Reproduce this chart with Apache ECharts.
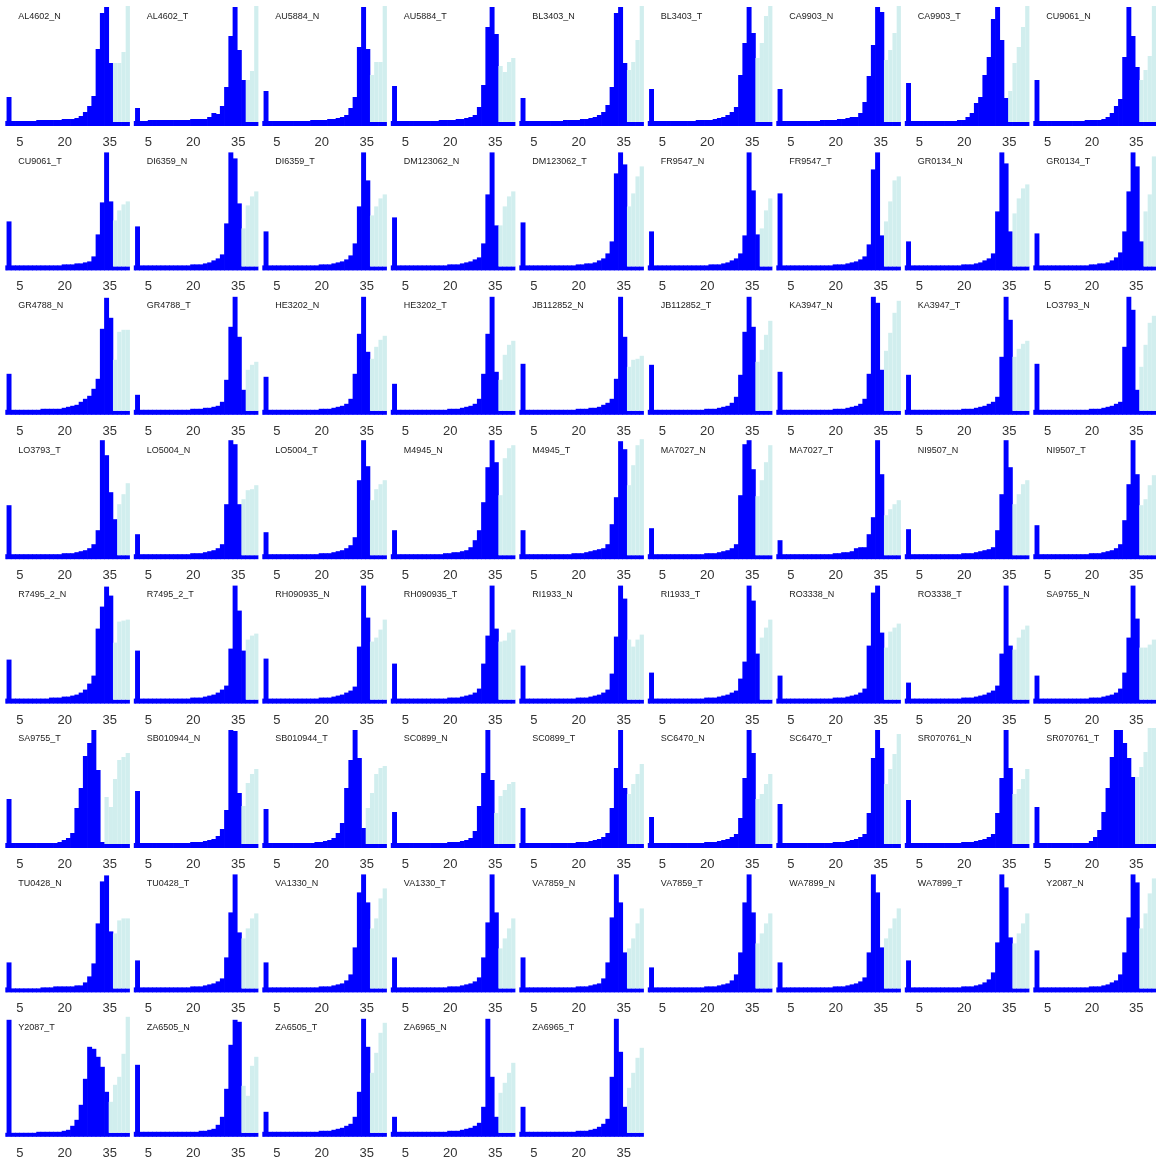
<!DOCTYPE html>
<html><head><meta charset="utf-8">
<script src="https://cdn.jsdelivr.net/npm/echarts@6/dist/echarts.min.js"></script>
<style>html,body{margin:0;padding:0;background:#fff}#c{width:1156px;height:1162px}</style>
</head><body><div id="c"></div>
<script>
const panelNames = ["AL4602_N","AL4602_T","AU5884_N","AU5884_T","BL3403_N","BL3403_T","CA9903_N","CA9903_T","CU9061_N",
"CU9061_T","DI6359_N","DI6359_T","DM123062_N","DM123062_T","FR9547_N","FR9547_T","GR0134_N","GR0134_T",
"GR4788_N","GR4788_T","HE3202_N","HE3202_T","JB112852_N","JB112852_T","KA3947_N","KA3947_T","LO3793_N",
"LO3793_T","LO5004_N","LO5004_T","M4945_N","M4945_T","MA7027_N","MA7027_T","NI9507_N","NI9507_T",
"R7495_2_N","R7495_2_T","RH090935_N","RH090935_T","RI1933_N","RI1933_T","RO3338_N","RO3338_T","SA9755_N",
"SA9755_T","SB010944_N","SB010944_T","SC0899_N","SC0899_T","SC6470_N","SC6470_T","SR070761_N","SR070761_T",
"TU0428_N","TU0428_T","VA1330_N","VA1330_T","VA7859_N","VA7859_T","WA7899_N","WA7899_T","Y2087_N",
"Y2087_T","ZA6505_N","ZA6505_T","ZA6965_N","ZA6965_T"];

const binCenters = [0,1.414,2.828,4.241,5.655,7.069,8.483,9.897,11.31,12.72,14.14,15.55,16.97,18.38,19.79,21.21,22.62,24.03,25.45,26.86,28.28,29.69,31.1,32.52,33.93,35.34,36.76,38.17,39.59,41];
const binWidth = 1.414;
const xTickValues = [5, 20, 35];

const blueCounts = [
[5,29,5,5,5,5,5,5,6,6,6,6,6,6,7,7,7,8,10,14,20,30,77,113,119,63,4,4,4,4],
[5,18,5,5,6,6,6,6,6,6,6,6,6,6,7,7,7,7,9,13,12,20,39,90,119,76,46,4,4,4],
[5,35,5,5,5,5,5,5,5,5,5,5,6,6,6,6,7,7,8,9,11,18,29,79,119,77,4,4,4,4],
[5,40,5,5,5,5,5,5,5,5,5,5,6,6,6,6,7,7,8,9,11,19,41,99,119,92,4,4,4,4],
[5,28,5,5,5,5,5,5,5,5,5,6,6,6,6,7,7,8,9,11,14,21,39,113,119,63,4,4,4,4],
[5,37,5,5,5,5,5,5,5,5,5,5,6,6,6,6,7,8,9,11,14,19,51,83,119,93,4,4,4,4],
[5,37,5,5,5,5,5,5,5,5,5,6,6,6,6,7,7,8,9,9,13,24,50,81,119,114,4,4,4,4],
[5,43,5,5,5,5,5,5,5,5,5,5,5,6,6,9,13,23,29,51,69,107,119,86,28,4,4,4,4,4],
[5,46,5,5,5,5,5,5,5,5,5,5,5,6,6,6,6,7,9,13,20,27,69,119,90,59,4,4,4,4],
[5,49,5,5,5,5,5,5,5,5,5,5,5,5,6,6,6,7,7,8,9,14,36,68,118,69,4,4,4,4],
[5,44,5,5,5,5,5,5,5,5,5,5,5,5,6,6,6,7,8,10,12,16,47,118,112,67,4,4,4,4],
[5,39,5,5,5,5,5,5,5,5,5,5,5,5,6,6,6,7,8,9,11,15,27,64,118,90,4,4,4,4],
[5,53,5,5,5,5,5,5,5,5,5,5,5,5,6,6,6,7,8,9,11,13,27,76,118,45,4,4,4,4],
[5,48,5,5,5,5,5,5,5,5,5,5,5,5,6,6,7,7,8,10,12,17,29,97,118,106,4,4,4,4],
[5,39,5,5,5,5,5,5,5,5,5,5,5,5,5,6,6,6,7,8,10,12,17,35,118,80,36,4,4,4],
[5,77,5,5,5,5,5,5,5,5,5,5,5,5,6,6,6,7,8,9,11,14,26,101,118,35,4,4,4,4],
[5,29,5,5,5,5,5,5,5,5,5,5,5,5,6,6,6,7,8,10,12,17,59,118,107,39,4,4,4,4],
[5,37,5,5,5,5,5,5,5,5,5,5,5,5,6,6,7,7,8,10,13,18,39,79,118,104,29,4,4,4],
[5,41,5,5,5,5,5,5,5,6,6,6,6,6,7,8,9,10,13,16,19,26,36,86,117,97,4,4,4,4],
[5,20,5,5,5,5,5,5,5,5,5,5,5,5,6,6,6,7,7,8,9,13,35,88,118,78,25,4,4,4],
[5,38,5,5,5,5,5,5,5,5,5,5,5,5,6,6,6,7,8,9,11,16,41,81,118,63,4,4,4,4],
[5,31,5,5,5,5,5,5,5,5,5,5,5,5,6,6,6,7,8,9,11,16,41,81,118,43,4,4,4,4],
[5,51,5,5,5,5,5,5,5,5,5,5,5,5,6,6,6,7,7,8,10,12,16,36,118,78,4,4,4,4],
[5,50,5,5,5,5,5,5,5,5,5,5,5,5,6,6,6,7,8,9,12,18,40,83,118,88,4,4,4,4],
[5,43,5,5,5,5,5,5,5,5,5,5,5,5,6,6,6,7,8,9,11,16,41,118,112,45,4,4,4,4],
[5,40,5,5,5,5,5,5,5,5,5,5,5,5,6,6,6,7,8,9,11,13,18,58,118,95,4,4,4,4],
[5,51,5,5,5,5,5,5,5,5,5,5,5,5,6,6,6,7,8,9,11,13,68,118,105,25,4,4,4,4],
[5,54,5,5,5,5,5,5,5,5,5,5,5,5,6,6,6,7,8,9,11,15,29,119,104,67,40,4,4,4],
[5,25,5,5,5,5,5,5,5,5,5,5,5,5,6,6,6,7,8,9,11,15,55,119,115,55,4,4,4,4],
[5,27,5,5,5,5,5,5,5,5,5,5,5,5,6,6,6,7,8,9,11,14,22,79,119,93,4,4,4,4],
[5,29,5,5,5,5,5,5,5,5,5,5,5,6,6,7,7,8,9,12,19,29,57,92,119,97,4,4,4,4],
[5,29,5,5,5,5,5,5,5,5,5,5,5,6,6,6,7,8,9,10,11,15,35,62,118,110,4,4,4,4],
[5,31,5,5,5,5,5,5,5,5,5,5,5,5,6,6,6,7,8,9,11,15,64,115,119,90,4,4,4,4],
[5,19,5,5,5,5,5,5,5,5,5,5,5,5,6,6,7,7,8,11,12,12,25,42,119,85,4,4,4,4],
[5,30,5,5,5,5,5,5,5,5,5,5,5,5,6,6,6,7,8,9,10,12,29,65,119,92,4,4,4,4],
[5,34,5,5,5,5,5,5,5,5,5,5,5,5,6,6,6,7,8,9,11,15,39,75,119,85,4,4,4,4],
[5,44,5,5,5,5,5,5,5,5,5,6,6,6,7,7,8,9,11,14,20,28,75,97,117,108,4,4,4,4],
[5,53,5,5,5,5,5,5,5,5,5,5,5,5,6,6,6,7,8,9,11,14,18,55,118,93,53,4,4,4],
[5,45,5,5,5,5,5,5,5,5,5,5,5,5,6,6,6,7,8,9,11,13,17,57,118,86,4,4,4,4],
[5,40,5,5,5,5,5,5,5,5,5,5,5,5,6,6,6,7,8,9,11,15,40,68,118,75,4,4,4,4],
[5,38,5,5,5,5,5,5,5,5,5,5,5,5,6,6,6,7,8,9,11,14,30,67,118,105,4,4,4,4],
[5,31,5,5,5,5,5,5,5,5,5,5,5,5,6,6,6,7,8,9,11,13,25,42,118,103,50,4,4,4],
[5,28,5,5,5,5,5,5,5,5,5,5,5,5,6,6,6,7,8,9,11,15,58,111,118,71,4,4,4,4],
[5,21,5,5,5,5,5,5,5,5,5,5,5,5,6,6,6,7,8,9,11,13,18,50,118,58,4,4,4,4],
[5,28,5,5,5,5,5,5,5,5,5,5,5,5,6,6,6,7,8,9,11,15,31,66,118,85,4,4,4,4],
[5,49,5,5,5,5,5,5,5,5,5,5,5,6,8,10,15,40,60,92,105,118,78,6,4,4,4,4,4,4],
[5,57,5,5,5,5,5,5,5,5,5,5,5,5,6,6,6,7,8,9,12,19,38,118,117,55,4,4,4,4],
[5,39,5,5,5,5,5,5,5,5,5,5,5,6,6,7,8,10,15,25,60,88,118,90,20,4,4,4,4,4],
[5,36,5,5,5,5,5,5,5,5,5,5,5,5,6,6,6,7,8,10,17,42,75,118,68,4,4,4,4,4],
[5,40,5,5,5,5,5,5,5,5,5,5,5,5,6,6,6,7,8,9,11,15,40,80,118,60,4,4,4,4],
[5,31,5,5,5,5,5,5,5,5,5,5,5,5,6,6,6,7,8,9,11,14,30,70,118,95,4,4,4,4],
[5,44,5,5,5,5,5,5,5,5,5,5,5,5,6,6,6,7,8,9,11,14,35,90,118,100,4,4,4,4],
[5,48,5,5,5,5,5,5,5,5,5,5,5,5,6,6,6,7,8,9,11,14,35,70,118,80,4,4,4,4],
[5,41,5,5,5,5,5,5,5,5,5,5,5,5,7,11,18,36,60,91,118,118,105,90,71,4,4,4,4,4],
[5,30,4,4,4,4,4,4,4,5,5,5,6,6,6,6,6,7,7,10,16,29,69,111,117,61,4,4,4,4],
[5,32,5,5,5,5,5,5,5,5,5,5,5,5,6,6,6,7,8,9,11,14,35,80,118,60,4,4,4,4],
[5,30,5,5,5,5,5,5,5,5,5,5,5,5,6,6,6,7,8,9,12,18,45,100,118,90,4,4,4,4],
[5,35,5,5,5,5,5,5,5,5,5,5,5,5,6,6,6,7,8,9,11,15,35,70,118,80,4,4,4,4],
[5,35,5,5,5,5,5,5,5,5,5,5,5,5,6,6,6,7,8,9,14,30,75,118,90,40,4,4,4,4],
[5,25,5,5,5,5,5,5,5,5,5,5,5,5,6,6,6,7,8,9,12,18,40,90,118,80,4,4,4,4],
[5,30,5,5,5,5,5,5,5,5,5,5,5,5,6,6,6,7,8,9,11,15,40,118,100,45,4,4,4,4],
[5,32,5,5,5,5,5,5,5,5,5,5,5,5,6,6,6,7,8,10,13,20,50,118,105,55,4,4,4,4],
[5,42,5,5,5,5,5,5,5,5,5,5,5,5,6,6,6,7,8,10,12,18,40,75,118,110,4,4,4,4],
[4,117,4,4,4,4,4,4,5,5,5,5,5,5,6,7,11,17,32,58,90,88,80,70,45,4,4,4,4,4],
[5,72,5,5,5,5,5,5,5,5,5,5,5,5,5,5,6,6,7,8,12,20,48,92,117,115,4,4,4,4],
[5,25,5,5,5,5,5,5,5,5,5,5,5,5,6,6,6,7,8,9,11,13,20,45,118,90,4,4,4,4],
[5,20,5,5,5,5,5,5,5,5,5,5,5,5,6,6,6,7,8,9,11,14,30,118,60,20,4,4,4,4],
[5,30,5,5,5,5,5,5,5,5,5,5,5,5,6,6,6,7,8,10,13,18,60,118,85,30,4,4,4,4]
];

// second (light) group, bins 22..29, stacked on top of the blue group
const cyanFirstBin = 22;
const cyanCounts = [
[0,0,0,0,59,59,70,130],[0,0,0,0,0,42,51,130],[0,0,0,0,47,60,60,130],[0,0,0,0,56,50,60,64],
[0,0,0,0,52,60,82,130],[0,0,0,0,64,79,106,130],[0,0,0,0,62,72,89,130],[0,0,0,31,59,75,95,130],
[0,0,0,0,42,52,66,130],[0,0,0,0,46,56,62,65],[0,0,0,0,38,61,70,75],[0,0,0,0,51,60,68,72],
[0,0,0,0,41,60,70,75],[0,0,0,0,60,73,90,100],[0,0,0,0,0,38,56,68],[0,0,0,0,45,65,86,90],
[0,0,0,0,53,68,78,82],[0,0,0,0,0,55,72,110],[0,0,0,0,51,79,81,81],[0,0,0,0,0,41,46,49],
[0,0,0,0,52,64,71,75],[0,0,0,0,31,56,66,70],[0,0,0,0,44,51,52,55],[0,0,0,0,49,61,76,90],
[0,0,0,0,60,78,98,110],[0,0,0,0,54,62,67,70],[0,0,0,0,44,66,88,95],[0,0,0,0,0,51,61,72],
[0,0,0,0,56,65,66,70],[0,0,0,0,55,66,71,75],[0,0,0,0,60,97,107,110],[0,0,0,0,70,90,110,130],
[0,0,0,0,59,75,93,110],[0,0,0,0,40,46,51,55],[0,0,0,0,51,61,71,75],[0,0,0,0,50,56,70,80],
[0,0,0,0,57,78,79,80],[0,0,0,0,0,60,64,66],[0,0,0,0,58,62,70,80],[0,0,0,0,58,59,67,70],
[0,0,0,0,60,53,60,65],[0,0,0,0,0,62,72,80],[0,0,0,0,52,68,72,76],[0,0,0,0,50,62,70,74],
[0,0,0,0,52,52,55,60],[0,0,47,37,65,84,87,91],[0,0,0,0,38,61,70,75],[0,0,0,36,51,70,76,78],
[0,0,0,31,48,54,60,62],[0,0,0,0,50,60,70,80],[0,0,0,0,45,50,60,70],[0,0,0,0,60,75,90,110],
[0,0,0,0,50,55,65,75],[0,0,0,67,77,92,130,130],[0,0,0,0,55,68,70,70],[0,0,0,0,50,60,70,75],
[0,0,0,0,60,70,90,100],[0,0,0,0,40,50,60,70],[0,0,0,0,40,50,65,80],[0,0,0,0,45,55,65,75],
[0,0,0,0,50,60,70,80],[0,0,0,0,45,55,65,75],[0,0,0,0,60,75,95,110],[0,0,0,31,48,56,79,130],
[0,0,0,0,47,37,67,76],[0,0,0,0,60,80,100,110],[0,0,0,0,40,50,60,70],[0,0,0,0,45,60,75,85]
];

const chart = echarts.init(document.getElementById('c'), null, {renderer: 'canvas'});
const nCols = 9, colPitch = 128.5, rowPitch = 144.4;
const gLeft = 5.3, gTop = 6, gW = 124.6, gH = 120;
const FONT = '"Liberation Sans", Arial, Helvetica, sans-serif';
const BLUE = '#0000FF', CYAN = '#D1EEEE';
const grid = [], xAxis = [], yAxis = [], series = [], title = [];

function makeRenderer(color, overlap) {
  return function (params, api) {
    const x = api.value(0), y0 = api.value(1), y1 = api.value(2);
    if (!(y1 > y0)) return null;
    const p0 = api.coord([x - binWidth / 2, y0]);
    const p1 = api.coord([x + binWidth / 2, y1]);
    const cs = params.coordSys;
    const rect = echarts.graphic.clipRectByRect(
      {x: p0[0] - overlap, y: p1[1], width: p1[0] - p0[0] + 2 * overlap, height: p0[1] - p1[1]},
      {x: cs.x, y: cs.y, width: cs.width, height: cs.height});
    if (!rect) return null;
    return {type: 'rect', shape: rect, style: {fill: color}};
  };
}

panelNames.forEach(function (name, i) {
  const c = i % nCols, r = Math.floor(i / nCols);
  const left = gLeft + c * colPitch, top = gTop + r * rowPitch;
  grid.push({left: left, top: top, width: gW, height: gH});
  xAxis.push({
    gridIndex: i, type: 'value', min: 0.17, max: 41.7,
    axisLine: {show: false}, axisTick: {show: false}, splitLine: {show: false},
    axisLabel: {customValues: xTickValues, fontSize: 13, color: '#333333', margin: 10, fontFamily: FONT}
  });
  yAxis.push({gridIndex: i, type: 'value', min: 0, max: 120, show: false, splitLine: {show: false}});
  const blue = blueCounts[i];
  const cy = cyanCounts[i];
  series.push({
    type: 'custom', xAxisIndex: i, yAxisIndex: i, silent: true, animation: false,
    renderItem: makeRenderer(BLUE, 0.35),
    encode: {x: 0, y: 2},
    data: binCenters.map(function (x, k) { return [x, 0, blue[k] || 0]; })
  });
  series.push({
    type: 'custom', xAxisIndex: i, yAxisIndex: i, silent: true, animation: false,
    renderItem: makeRenderer(CYAN, 0),
    encode: {x: 0, y: 2},
    data: binCenters.map(function (x, k) {
      const v = k >= cyanFirstBin ? (cy[k - cyanFirstBin] || 0) : 0;
      const b = blue[k] || 0;
      return [x, b, b + v];
    })
  });
  title.push({
    text: name, left: left + 13, top: top + 6.5, padding: 0,
    textStyle: {fontSize: 9, fontWeight: 'normal', color: '#222222', fontFamily: FONT}
  });
});

chart.setOption({
  animation: false, backgroundColor: '#ffffff',
  title: title, grid: grid, xAxis: xAxis, yAxis: yAxis, series: series
});
</script></body></html>
